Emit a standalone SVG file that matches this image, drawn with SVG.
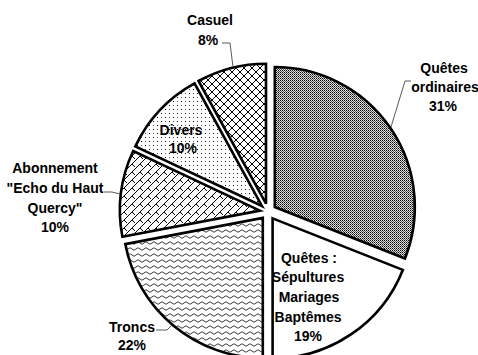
<svg xmlns="http://www.w3.org/2000/svg" width="478" height="355" viewBox="0 0 478 355">
<defs>
<pattern id="pOrd" width="2" height="2" patternUnits="userSpaceOnUse">
<rect width="2" height="2" fill="#e0e0e0"/>
<rect x="0" y="0" width="1" height="1" fill="#000"/>
<rect x="1" y="1" width="1" height="1" fill="#555"/>
</pattern>
<pattern id="pWave" width="8" height="6" patternUnits="userSpaceOnUse">
<rect width="8" height="6" fill="#fff"/>
<path d="M0 3 Q2 0.5 4 3 T8 3" fill="none" stroke="#222" stroke-width="0.9"/>
</pattern>
<pattern id="pShingle" width="8" height="8" patternUnits="userSpaceOnUse">
<rect width="8" height="8" fill="#fff"/>
<path d="M0 8 L8 0 M4 4 L7 7 M-4 4 L-1 7 M0 0 L-1 1 M8 0 L9 1" fill="none" stroke="#000" stroke-width="1"/>
</pattern>
<pattern id="pDots" width="8" height="8" patternUnits="userSpaceOnUse">
<rect width="8" height="8" fill="#fff"/>
<rect x="1" y="1" width="1" height="1" fill="#000"/>
<rect x="5" y="5" width="1" height="1" fill="#000"/>
<rect x="5" y="1" width="1" height="1" fill="#555"/>
<rect x="1" y="5" width="1" height="1" fill="#555"/>
</pattern>
<pattern id="pDiam" width="8" height="8" patternUnits="userSpaceOnUse">
<rect width="8" height="8" fill="#fff"/>
<path d="M0 0 L8 8 M8 0 L0 8" fill="none" stroke="#000" stroke-width="1"/>
</pattern>
</defs>
<style>
.slice{stroke:#000;stroke-width:2.6;stroke-linejoin:miter}
.lbl{font-family:"Liberation Sans",Arial,sans-serif;font-weight:bold;font-size:14px;fill:#000;text-anchor:middle}
.lead{fill:none;stroke:#595959;stroke-width:1}
</style>
<g id="slice-ordinaires"><path class="slice" fill="url(#pOrd)" d="M274.8 207 L274.8 67 A140 140 0 0 1 405 258.5 Z"/></g>
<g id="slice-sepultures"><path class="slice" fill="#fff" d="M272.6 218.4 L402.8 269.9 A140 140 0 0 1 272.6 358.4 Z"/></g>
<g id="slice-troncs"><path class="slice" fill="url(#pWave)" d="M262.8 217.9 L262.8 357.9 A140 140 0 0 1 125.3 244.1 Z"/></g>
<g id="slice-abonnement"><path class="slice" fill="url(#pShingle)" d="M259.9 210.6 L122.4 236.8 A140 140 0 0 1 133.2 151 Z"/></g>
<g id="slice-divers"><path class="slice" fill="url(#pDots)" d="M262 206 L135.3 146.4 A140 140 0 0 1 194.5 83.3 Z"/></g>
<g id="slice-casuel"><path class="slice" fill="url(#pDiam)" d="M266 203.7 L198.5 81 A140 140 0 0 1 266 63.7 Z"/></g>
<g id="connectors">
<polyline class="lead" points="222,43 230,43 233,67"/>
<polyline class="lead" points="411,81 405,81 391,127"/>
<polyline class="lead" points="156,330 167,330 172,325"/>
<polyline class="lead" points="104,192 112,192 120,194"/>
</g>
<g id="label-casuel"><text class="lbl" x="210" y="25">Casuel</text><text class="lbl" x="208" y="45">8%</text></g>
<g id="label-ordinaires"><text class="lbl" x="444" y="73">Quêtes</text><text class="lbl" x="445" y="92">ordinaires</text><text class="lbl" x="443" y="111">31%</text></g>
<g id="label-sepultures"><text class="lbl" x="309" y="263">Quêtes :</text><text class="lbl" x="308" y="282">Sépultures</text><text class="lbl" x="309" y="302">Mariages</text><text class="lbl" x="308" y="322">Baptêmes</text><text class="lbl" x="308" y="341">19%</text></g>
<g id="label-troncs"><text class="lbl" x="132" y="332">Troncs</text><text class="lbl" x="132" y="350">22%</text></g>
<g id="label-abonnement"><text class="lbl" x="55" y="173">Abonnement</text><text class="lbl" x="55" y="193">"Echo du Haut</text><text class="lbl" x="55" y="213">Quercy"</text><text class="lbl" x="55" y="232">10%</text></g>
<g id="label-divers"><text class="lbl" x="181" y="135">Divers</text><text class="lbl" x="183" y="153">10%</text></g>
</svg>
